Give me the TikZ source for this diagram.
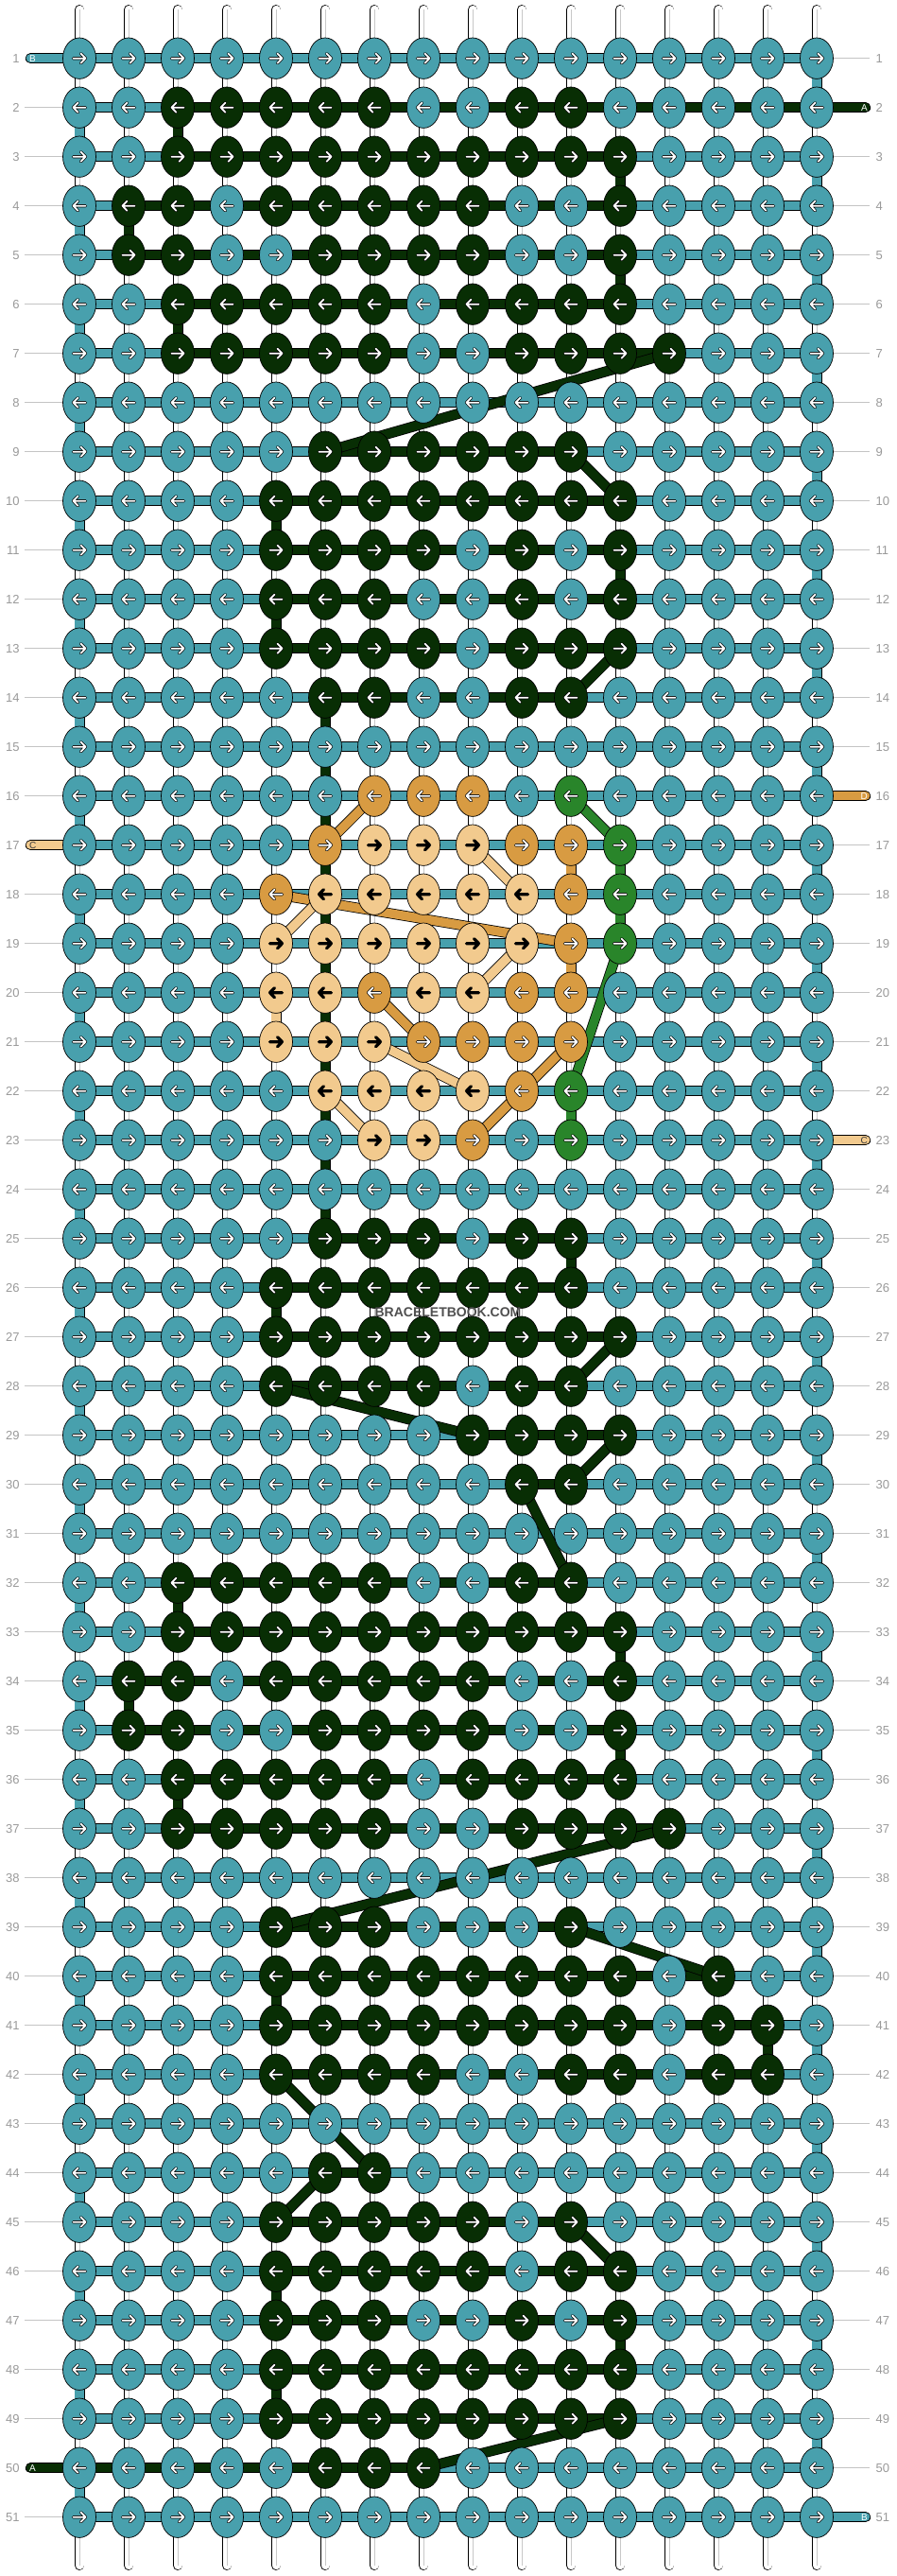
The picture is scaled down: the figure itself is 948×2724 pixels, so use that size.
\documentclass[tikz,border=0pt]{standalone}
\usepackage{fontspec}
\setmainfont{Liberation Sans}
\usetikzlibrary{shapes.geometric}
\definecolor{kT}{HTML}{48A0AD}
\definecolor{kD}{HTML}{082E04}
\definecolor{kO}{HTML}{D89B42}
\definecolor{kL}{HTML}{F2CA8E}
\definecolor{kG}{HTML}{29852A}
\colorlet{aT}{white}
\colorlet{aD}{white}
\colorlet{aO}{white}
\colorlet{aG}{white}
\colorlet{aL}{black}
\definecolor{lblgrey}{HTML}{9A9A9A}
\definecolor{linegrey}{HTML}{C4C4C4}
\definecolor{warpmid}{HTML}{C8C8C8}
\definecolor{wmgrey}{HTML}{505050}
\definecolor{darklbl}{HTML}{3A3A3A}
\tikzset{
  strand/.style={line width=0.8bp, double=#1, double distance=9.4bp},
  tailstrand/.style={line width=0.8bp, double=#1, double distance=9.4bp, line cap=round},
  warp/.style={line width=0.8bp, double=white, double distance=9bp, line cap=round},
  knot/.style={ellipse, draw=black, line width=0.7bp, minimum width=35bp, minimum height=43.4bp, inner sep=0pt, fill=#1},
  rowlbl/.style={text=lblgrey, font=\fontsize{13bp}{15bp}\selectfont, inner sep=0pt},
  taillbl/.style={font=\fontsize{10bp}{12bp}\selectfont, inner sep=0pt, text=white},
  guide/.style={draw=linegrey, line width=0.9bp},
  pics/karrow/.style 2 args={code={
    \draw[line cap=round, line join=round, line width=#2, #1] (-6.5,0) -- (6.5,0) (1.6,-5) -- (6.5,0) -- (1.6,5);}}
}
\begin{document}
\begin{tikzpicture}[x=1bp, y=-1bp]
\useasboundingbox (0,0) rectangle (948,2724);
\fill[white] (0,0) rectangle (948,2724);
% grid coordinates
\foreach \r in {1,...,51}{
  \foreach \c in {1,...,16}{
    \coordinate (p-\r-\c) at ({32+52*\c},{9.7+52*\r});
  }
}
% warps
\foreach \c in {1,...,16}{
  \coordinate (wt-\c) at ({32+52*\c},10.3);
  \coordinate (wb-\c) at ({32+52*\c},2712.7);
  \draw[warp] (wt-\c) -- (wb-\c);
  \draw[warpmid, line width=0.9bp] (wt-\c) -- (wb-\c);
}
% guide lines to row numbers
\foreach \r in {2,...,16,18,19,...,49,51}{
  \coordinate (gl-\r) at (26,{9.7+52*\r});
  \draw[guide] (gl-\r) -- (p-\r-1);
}
\foreach \r in {1,3,4,...,15,17,18,...,22,24,25,...,50}{
  \coordinate (gr-\r) at (920,{9.7+52*\r});
  \draw[guide] (p-\r-16) -- (gr-\r);
}
% tails
\coordinate (tl-1) at (32.3,61.7);
\coordinate (tl-17) at (32.3,893.7);
\coordinate (tl-50) at (32.3,2609.7);
\coordinate (tr-2) at (915.7,113.7);
\coordinate (tr-16) at (915.7,841.7);
\coordinate (tr-23) at (915.7,1205.7);
\coordinate (tr-51) at (915.7,2661.7);
\draw[tailstrand=kT] (tl-1) -- (p-1-1);
\draw[tailstrand=kL] (tl-17) -- (p-17-1);
\draw[tailstrand=kD] (tl-50) -- (p-50-1);
\draw[tailstrand=kD] (tr-2) -- (p-2-16);
\draw[tailstrand=kO] (tr-16) -- (p-16-16);
\draw[tailstrand=kL] (tr-23) -- (p-23-16);
\draw[tailstrand=kT] (tr-51) -- (p-51-16);
% horizontal bars
\foreach \r in {1,...,51}{
  \draw[strand=kT] (p-\r-1) -- (p-\r-16);
}
\foreach \r/\a/\b in {2/3/16,3/3/12,4/2/12,5/2/12,6/3/12,7/3/13,9/6/11,10/5/12,11/5/12,12/5/12,13/5/12,14/6/11,25/6/11,26/5/11,27/5/12,28/5/11,29/9/12,30/10/11,32/3/11,33/3/12,34/2/12,35/2/12,36/3/12,37/3/13,39/5/11,40/5/14,41/5/15,42/5/15,44/6/7,45/5/11,46/5/12,47/5/12,48/5/12,49/5/12,50/1/8}{
  \draw[strand=kD] (p-\r-\a) -- (p-\r-\b);
}
% vertical turns
\foreach \r in {1,3,...,49}{
  \pgfmathtruncatemacro\rn{\r+1}
  \draw[strand=kT] (p-\r-16) -- (p-\rn-16);
}
\foreach \r in {2,4,...,50}{
  \pgfmathtruncatemacro\rn{\r+1}
  \draw[strand=kT] (p-\r-1) -- (p-\rn-1);
}
\foreach \r/\c/\col in {2/3/kD,3/12/kD,4/2/kD,5/12/kD,6/3/kD,10/5/kD,11/12/kD,12/5/kD,14/6/kD,15/6/kD,16/6/kD,17/6/kD,18/6/kD,19/6/kD,20/6/kD,21/6/kD,22/6/kD,23/6/kD,24/6/kD,25/11/kD,26/5/kD,32/3/kD,33/12/kD,34/2/kD,35/12/kD,36/3/kD,40/5/kD,41/15/kD,46/5/kD,47/12/kD,48/5/kD,17/11/kO,19/11/kO,17/12/kG,18/12/kG,22/11/kG,20/5/kL}{
  \pgfmathtruncatemacro\rn{\r+1}
  \draw[strand=\col] (p-\r-\c) -- (p-\rn-\c);
}
% diagonal jumps
\foreach \ra/\ca/\rb/\cb/\col in {7/13/9/6/kD,9/11/10/12/kD,13/12/14/11/kD,27/12/28/11/kD,28/5/29/9/kD,29/12/30/11/kD,30/10/32/11/kD,37/13/39/5/kD,39/11/40/14/kD,42/5/44/7/kD,44/6/45/5/kD,45/11/46/12/kD,49/12/50/8/kD,16/7/17/6/kO,18/5/19/11/kO,20/7/21/8/kO,21/11/22/10/kO,22/10/23/9/kO,17/9/18/10/kL,18/6/19/5/kL,19/10/20/9/kL,21/7/22/9/kL,22/6/23/7/kL,16/11/17/12/kG,19/12/22/11/kG}{
  \draw[strand=\col] (p-\ra-\ca) -- (p-\rb-\cb);
}
% knots
\foreach \rowcols [count=\r] in {
{T,T,T,T,T,T,T,T,T,T,T,T,T,T,T,T},
{T,T,D,D,D,D,D,T,T,D,D,T,T,T,T,T},
{T,T,D,D,D,D,D,D,D,D,D,D,T,T,T,T},
{T,D,D,T,D,D,D,D,D,T,T,D,T,T,T,T},
{T,D,D,T,T,D,D,D,D,T,T,D,T,T,T,T},
{T,T,D,D,D,D,D,T,D,D,D,D,T,T,T,T},
{T,T,D,D,D,D,D,T,T,D,D,D,D,T,T,T},
{T,T,T,T,T,T,T,T,T,T,T,T,T,T,T,T},
{T,T,T,T,T,D,D,D,D,D,D,T,T,T,T,T},
{T,T,T,T,D,D,D,D,D,D,D,D,T,T,T,T},
{T,T,T,T,D,D,D,D,T,D,T,D,T,T,T,T},
{T,T,T,T,D,D,D,T,T,D,T,D,T,T,T,T},
{T,T,T,T,D,D,D,D,T,D,D,D,T,T,T,T},
{T,T,T,T,T,D,D,T,T,D,D,T,T,T,T,T},
{T,T,T,T,T,T,T,T,T,T,T,T,T,T,T,T},
{T,T,T,T,T,T,O,O,O,T,G,T,T,T,T,T},
{T,T,T,T,T,O,L,L,L,O,O,G,T,T,T,T},
{T,T,T,T,O,L,L,L,L,L,O,G,T,T,T,T},
{T,T,T,T,L,L,L,L,L,L,O,G,T,T,T,T},
{T,T,T,T,L,L,O,L,L,O,O,T,T,T,T,T},
{T,T,T,T,L,L,L,O,O,O,O,T,T,T,T,T},
{T,T,T,T,T,L,L,L,L,O,G,T,T,T,T,T},
{T,T,T,T,T,T,L,L,O,T,G,T,T,T,T,T},
{T,T,T,T,T,T,T,T,T,T,T,T,T,T,T,T},
{T,T,T,T,T,D,D,D,T,D,D,T,T,T,T,T},
{T,T,T,T,D,D,D,D,D,D,D,T,T,T,T,T},
{T,T,T,T,D,D,D,D,D,D,D,D,T,T,T,T},
{T,T,T,T,D,D,D,D,T,D,D,T,T,T,T,T},
{T,T,T,T,T,T,T,T,D,D,D,D,T,T,T,T},
{T,T,T,T,T,T,T,T,T,D,D,T,T,T,T,T},
{T,T,T,T,T,T,T,T,T,T,T,T,T,T,T,T},
{T,T,D,D,D,D,D,T,T,D,D,T,T,T,T,T},
{T,T,D,D,D,D,D,D,D,D,D,D,T,T,T,T},
{T,D,D,T,D,D,D,D,D,T,T,D,T,T,T,T},
{T,D,D,T,T,D,D,D,D,T,T,D,T,T,T,T},
{T,T,D,D,D,D,D,T,D,D,D,D,T,T,T,T},
{T,T,D,D,D,D,D,T,T,D,D,D,D,T,T,T},
{T,T,T,T,T,T,T,T,T,T,T,T,T,T,T,T},
{T,T,T,T,D,D,D,T,T,T,D,T,T,T,T,T},
{T,T,T,T,D,D,D,D,D,D,D,D,T,D,T,T},
{T,T,T,T,D,D,D,D,D,D,D,D,T,D,D,T},
{T,T,T,T,D,D,D,D,T,T,D,D,T,D,D,T},
{T,T,T,T,T,T,T,T,T,T,T,T,T,T,T,T},
{T,T,T,T,T,D,D,T,T,T,T,T,T,T,T,T},
{T,T,T,T,D,D,D,D,D,T,D,T,T,T,T,T},
{T,T,T,T,D,D,D,D,D,T,D,D,T,T,T,T},
{T,T,T,T,D,D,D,T,T,D,T,D,T,T,T,T},
{T,T,T,T,D,D,D,D,D,D,D,D,T,T,T,T},
{T,T,T,T,D,D,D,D,D,D,D,D,T,T,T,T},
{T,T,T,T,T,D,D,D,T,T,T,T,T,T,T,T},
{T,T,T,T,T,T,T,T,T,T,T,T,T,T,T,T}}{
  \foreach \k [count=\c] in \rowcols {
    \node[knot=k\k] (k-\r-\c) at (p-\r-\c) {};
    \ifodd\r\def\dir{1}\else\def\dir{-1}\fi
    \pic[xscale=\dir] at (k-\r-\c) {karrow={black}{3.2bp}};
    \pic[xscale=\dir] at (k-\r-\c) {karrow={a\k}{1.8bp}};
  }
}
% row numbers
\foreach \r in {1,...,51}{
  \node[rowlbl, anchor=east] (ln-\r) at (20.8,{9.7+52*\r}) {\r};
  \node[rowlbl, anchor=west] (rn-\r) at (926.5,{9.7+52*\r}) {\r};
}
% tail letters
\node[taillbl, anchor=west] (tll-1) at (31,61.7) {B};
\node[taillbl, anchor=west, text=darklbl] (tll-17) at (31,893.7) {C};
\node[taillbl, anchor=west] (tll-50) at (31,2609.7) {A};
\node[taillbl, anchor=east] (trl-2) at (918,113.7) {A};
\node[taillbl, anchor=east] (trl-16) at (918,841.7) {D};
\node[taillbl, anchor=east, text=darklbl] (trl-23) at (918,1205.7) {C};
\node[taillbl, anchor=east] (trl-51) at (918,2661.7) {B};
% watermark
\node[text=wmgrey, font=\fontsize{14bp}{16bp}\selectfont\bfseries, inner sep=0pt] (wm) at (474,1387.5) {BRACELETBOOK.COM};
\end{tikzpicture}
\end{document}
